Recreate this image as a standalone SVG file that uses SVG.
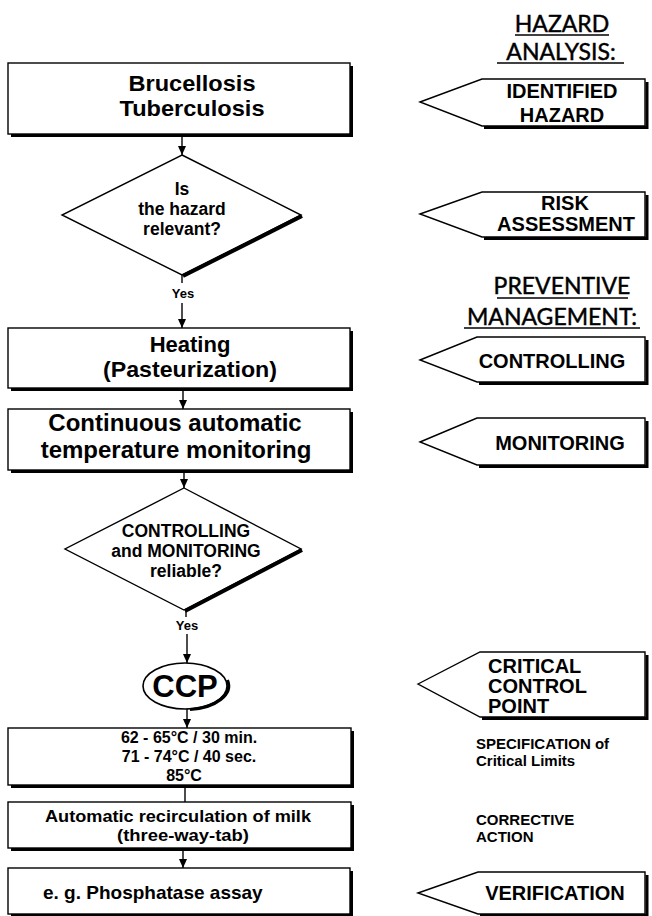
<svg xmlns="http://www.w3.org/2000/svg" width="652" height="916" viewBox="0 0 652 916">
<style>
  .bg { fill: #ffffff; }
  .box { fill: #ffffff; stroke: #000; stroke-width: 1.4; }
  .shadow { fill: none; stroke: #000; stroke-width: 3; stroke-linejoin: miter; }
  .line { fill: none; stroke: #000; stroke-width: 1.4; }
  .t { font-family: "Liberation Sans", Arial, Helvetica, sans-serif; font-weight: bold; fill: #000; }
  .big { font-size: 22px; text-anchor: middle; }
  .dia { font-size: 17.5px; text-anchor: middle; }
  .yes { font-size: 13px; text-anchor: middle; }
  .tag { font-size: 20px; }
  .mid { text-anchor: middle; }
  .side { font-size: 15px; }
  .head { font-family: "Lato", "Liberation Sans", sans-serif; font-size: 23px; font-weight: normal; text-anchor: middle; fill: #000; stroke: #000; stroke-width: 0.45; }
  .ul { stroke: #000; stroke-width: 1.6; }
</style>
<defs>
  <marker id="arr" markerUnits="userSpaceOnUse" markerWidth="10" markerHeight="10" viewBox="0 0 10 10" refX="9" refY="5" orient="auto">
    <path d="M0,1 L9,5 L0,9 Z" fill="#000"/>
  </marker>
</defs>
<rect class="bg" x="0" y="0" width="652" height="916"/>

<!-- connectors -->
<g id="connectors">
  <line class="line" x1="182" y1="134" x2="182" y2="155" marker-end="url(#arr)"/>
  <line class="line" x1="182" y1="275" x2="182" y2="283"/>
  <text class="t yes" x="183" y="298">Yes</text>
  <line class="line" x1="182" y1="303" x2="182" y2="328" marker-end="url(#arr)"/>
  <line class="line" x1="183" y1="388" x2="183" y2="409" marker-end="url(#arr)"/>
  <line class="line" x1="184" y1="470" x2="184" y2="488" marker-end="url(#arr)"/>
  <line class="line" x1="186" y1="610" x2="186" y2="617"/>
  <text class="t yes" x="187" y="630">Yes</text>
  <line class="line" x1="187" y1="634" x2="187" y2="663" marker-end="url(#arr)"/>
  <line class="line" x1="187" y1="709" x2="187" y2="728" marker-end="url(#arr)"/>
  <line class="line" x1="185" y1="785" x2="185" y2="802"/>
  <line class="line" x1="183" y1="848" x2="183" y2="868" marker-end="url(#arr)"/>
</g>

<!-- left flow nodes -->
<g id="n-hazards">
  <rect class="box" x="8" y="63" width="342" height="71"/>
  <polyline class="shadow" points="351.5,66 351.5,135.5 11,135.5"/>
  <text class="t big" x="192" y="91" textLength="127" lengthAdjust="spacingAndGlyphs">Brucellosis</text>
  <text class="t big" x="192" y="116" textLength="145" lengthAdjust="spacingAndGlyphs">Tuberculosis</text>
</g>

<g id="n-relevant">
  <polygon class="box" points="182,155 301,215 182,275 62,215"/>
  <line class="shadow" x1="302" y1="216" x2="183" y2="276" style="stroke-width:4"/>
  <text class="t dia" x="182" y="195">Is</text>
  <text class="t dia" x="182" y="215">the hazard</text>
  <text class="t dia" x="182" y="235">relevant?</text>
</g>

<g id="n-heating">
  <rect class="box" x="8" y="328" width="342" height="60"/>
  <polyline class="shadow" points="351.5,331 351.5,389.5 11,389.5"/>
  <text class="t big" x="190" y="352">Heating</text>
  <text class="t big" x="190" y="377" textLength="174" lengthAdjust="spacingAndGlyphs">(Pasteurization)</text>
</g>

<g id="n-monitoring">
  <rect class="box" x="8" y="409" width="342" height="61"/>
  <polyline class="shadow" points="351.5,412 351.5,471.5 11,471.5"/>
  <text class="t big" x="175" y="431" style="font-size:24px">Continuous automatic</text>
  <text class="t big" x="176" y="458" style="font-size:24px">temperature monitoring</text>
</g>

<g id="n-reliable">
  <polygon class="box" points="184,488 301,549 184,610 65,549"/>
  <line class="shadow" x1="302" y1="550" x2="185" y2="611" style="stroke-width:4"/>
  <text class="t dia" x="186" y="537">CONTROLLING</text>
  <text class="t dia" x="186" y="557">and MONITORING</text>
  <text class="t dia" x="186" y="577">reliable?</text>
</g>

<g id="n-ccp">
  <ellipse class="box" cx="185" cy="686" rx="42" ry="23" style="stroke-width:1.6"/>
  <path class="shadow" d="M227.5,680 A43,24 0 0 1 190,709.5" style="stroke-width:3"/>
  <text class="t mid" x="185" y="697" style="font-size:31px">CCP</text>
</g>

<g id="n-limits">
  <rect class="box" x="8" y="728" width="343" height="57"/>
  <polyline class="shadow" points="352.5,731 352.5,786.5 11,786.5"/>
  <text class="t mid" x="189" y="743" style="font-size:16px">62 - 65°C / 30 min.</text>
  <text class="t mid" x="189" y="762" style="font-size:16px">71 - 74°C / 40 sec.</text>
  <text class="t mid" x="184" y="781" style="font-size:16px">85°C</text>
</g>

<g id="n-recirculation">
  <rect class="box" x="8" y="802" width="343" height="46"/>
  <polyline class="shadow" points="352.5,805 352.5,849.5 11,849.5"/>
  <text class="t mid" x="178" y="822" style="font-size:17px" textLength="266" lengthAdjust="spacingAndGlyphs">Automatic recirculation of milk</text>
  <text class="t mid" x="183" y="841" style="font-size:17px" textLength="132" lengthAdjust="spacingAndGlyphs">(three-way-tab)</text>
</g>

<g id="n-assay">
  <rect class="box" x="8" y="868" width="342" height="46"/>
  <polyline class="shadow" points="351.5,871 351.5,915.5 11,915.5"/>
  <text class="t" x="43" y="899" style="font-size:19px">e. g. Phosphatase assay</text>
</g>

<!-- right column -->
<g id="h-hazard-analysis">
  <text class="head" x="562" y="32">HAZARD</text>
  <line class="ul" x1="515" y1="35" x2="609" y2="35"/>
  <text class="head" x="561" y="60">ANALYSIS:</text>
  <line class="ul" x1="497" y1="63" x2="624" y2="63"/>
</g>

<g id="l-identified">
  <polygon class="box" points="420,102 482,79 645,79 645,126 482,126"/>
  <polyline class="shadow" points="647,82 647,127.5 484,127.5"/>
  <text class="t tag mid" x="562" y="98">IDENTIFIED</text>
  <text class="t tag mid" x="562" y="122">HAZARD</text>
</g>

<g id="l-risk">
  <polygon class="box" points="420,214 482,192 645,192 645,237 482,237"/>
  <polyline class="shadow" points="647,195 647,238.5 484,238.5"/>
  <text class="t tag mid" x="565" y="210">RISK</text>
  <text class="t tag mid" x="566" y="231">ASSESSMENT</text>
</g>

<g id="h-preventive">
  <text class="head" x="562" y="294">PREVENTIVE</text>
  <line class="ul" x1="497" y1="298" x2="628" y2="298"/>
  <text class="head" x="552" y="325">MANAGEMENT:</text>
  <line class="ul" x1="464" y1="328" x2="640" y2="328"/>
</g>

<g id="l-controlling">
  <polygon class="box" points="420,360 477,337 645,337 645,382 477,382"/>
  <polyline class="shadow" points="647,340 647,383.5 479,383.5"/>
  <text class="t tag mid" x="552" y="368">CONTROLLING</text>
</g>

<g id="l-monitoring">
  <polygon class="box" points="420,442 477,418 645,418 645,465 477,465"/>
  <polyline class="shadow" points="647,421 647,466.5 479,466.5"/>
  <text class="t tag mid" x="560" y="450">MONITORING</text>
</g>

<g id="l-ccp">
  <polygon class="box" points="418,684 480,652 645,652 645,717 480,717"/>
  <polyline class="shadow" points="647,655 647,718.5 482,718.5"/>
  <text class="t tag" x="488" y="673">CRITICAL</text>
  <text class="t tag" x="488" y="693">CONTROL</text>
  <text class="t tag" x="488" y="713">POINT</text>
</g>

<g id="l-specification">
  <text class="t side" x="476" y="749">SPECIFICATION of</text>
  <text class="t side" x="476" y="766">Critical Limits</text>
</g>

<g id="l-corrective">
  <text class="t side" x="476" y="825">CORRECTIVE</text>
  <text class="t side" x="476" y="842">ACTION</text>
</g>

<g id="l-verification">
  <polygon class="box" points="418,893 478,872 645,872 645,914 478,914"/>
  <polyline class="shadow" points="647,875 647,915.5 480,915.5"/>
  <text class="t tag mid" x="555" y="900">VERIFICATION</text>
</g>
</svg>
